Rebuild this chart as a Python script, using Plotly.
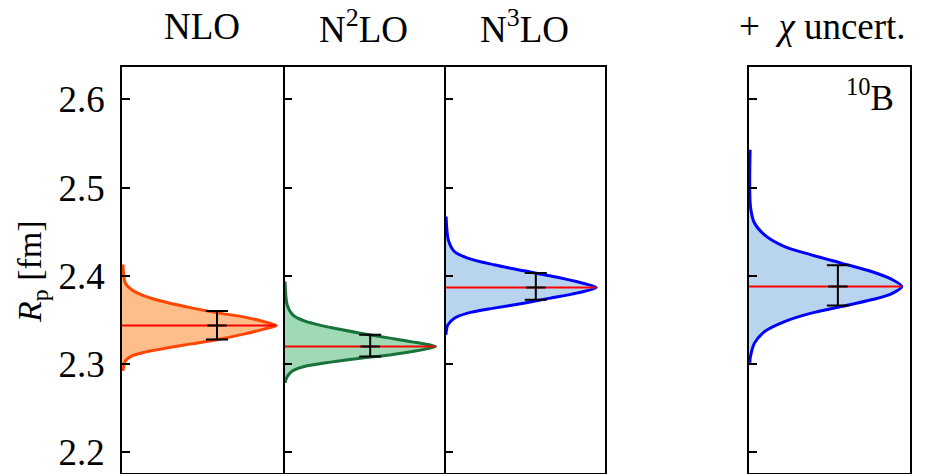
import plotly.graph_objects as go

# ---------------- data ----------------
panel_titles = ["NLO", "N<sup>2</sup>LO", "N<sup>3</sup>LO", "+\u00a0\u00a0<i>χ</i>\u00a0uncert."]

# density curves: R_p values (fm) and relative density (fraction of panel width)
nlo_R = [2.4128, 2.3921, 2.3845, 2.3770, 2.3694, 2.3637, 2.3580, 2.3532, 2.3478, 2.3437,
         2.3399, 2.3342, 2.3278, 2.3229, 2.3184, 2.3135, 2.3090, 2.3033, 2.2923]
nlo_d = [0.006, 0.020, 0.058, 0.141, 0.286, 0.430, 0.596, 0.762, 0.886, 0.958,
         0.886, 0.762, 0.596, 0.430, 0.286, 0.141, 0.058, 0.020, 0.006]

n2lo_R = [2.3935, 2.3671, 2.3558, 2.3490, 2.3414, 2.3350, 2.3294, 2.3244, 2.3198,
          2.3150, 2.3104, 2.3067, 2.3022, 2.2972, 2.2923, 2.2858, 2.2787]
n2lo_d = [0.003, 0.016, 0.051, 0.123, 0.289, 0.475, 0.661, 0.827, 0.947,
          0.827, 0.661, 0.475, 0.289, 0.123, 0.051, 0.016, 0.003]

n3lo_R = [2.4672, 2.4408, 2.4276, 2.4201, 2.4125, 2.4057, 2.4000, 2.3935, 2.3867,
          2.3804, 2.3747, 2.3690, 2.3634, 2.3577, 2.3520, 2.3444, 2.3331]
n3lo_d = [0.003, 0.017, 0.055, 0.138, 0.303, 0.489, 0.655, 0.821, 0.945,
          0.821, 0.655, 0.489, 0.303, 0.138, 0.055, 0.014, 0.002]

chi_R = [2.5429, 2.4786, 2.4598, 2.4465, 2.4332, 2.4238, 2.4144, 2.4049, 2.3963, 2.3879,
         2.3796, 2.3728, 2.3652, 2.3577, 2.3482, 2.3368, 2.3237, 2.3085, 2.3014]
chi_d = [0.007, 0.009, 0.034, 0.096, 0.221, 0.387, 0.573, 0.760, 0.884, 0.949,
         0.884, 0.760, 0.573, 0.387, 0.221, 0.096, 0.034, 0.009, 0.005]

curves_R = [nlo_R, n2lo_R, n3lo_R, chi_R]
curves_d = [nlo_d, n2lo_d, n3lo_d, chi_d]

# central values and error bars
means = [2.3437, 2.3198, 2.3867, 2.3879]
peaks = [0.958, 0.947, 0.945, 0.949]
err_plus = [0.0163, 0.0133, 0.0164, 0.0242]
err_minus = [0.0159, 0.0113, 0.0139, 0.0216]
err_x = [0.590, 0.537, 0.566, 0.552]

y_ticks = [2.2, 2.3, 2.4, 2.5, 2.6]

# ---------------- styling ----------------
line_colors = ["#FF4500", "#17733A", "#0000FF", "#0000FF"]
fill_colors = ["#FDBE8C", "#A0DAB4", "#B8D4EE", "#B8D4EE"]

W, H = 933, 474
LW = 1.6
panel_px = [(122, 283), (283 + LW, 444), (444 + LW, 605), (749, 910)]
y_top_px, y_bot_px = 66.5, 472.7
ydom = [1 - y_bot_px / H, 1 - y_top_px / H]
yrange = [2.1769, 2.6372]

SERIF = "Liberation Serif, Times New Roman, serif"

fig = go.Figure()

for i in range(4):
    xa = "x" if i == 0 else f"x{i+1}"
    ya = "y" if i == 0 else f"y{i+1}"
    fig.add_trace(go.Scatter(
        x=curves_d[i], y=curves_R[i], mode="lines",
        line=dict(color=line_colors[i], width=3, shape="spline", smoothing=0.8),
        fill="tozerox", fillcolor=fill_colors[i],
        xaxis=xa, yaxis=ya, showlegend=False, hoverinfo="skip"))
    fig.add_trace(go.Scatter(
        x=[0, peaks[i]], y=[means[i], means[i]], mode="lines",
        line=dict(color="#FF0000", width=2),
        xaxis=xa, yaxis=ya, showlegend=False, hoverinfo="skip"))
    fig.add_trace(go.Scatter(
        x=[err_x[i]], y=[means[i]], mode="markers",
        marker=dict(symbol="line-ew-open", size=14, color="black",
                    line=dict(color="black", width=2)),
        error_y=dict(type="data", symmetric=False, array=[err_plus[i]],
                     arrayminus=[err_minus[i]], color="black", thickness=2, width=11),
        xaxis=xa, yaxis=ya, showlegend=False, hoverinfo="skip"))

layout = dict(
    width=W, height=H, margin=dict(l=0, r=0, t=0, b=0),
    paper_bgcolor="white", plot_bgcolor="white",
    font=dict(family=SERIF, color="black", size=36),
)
for i in range(4):
    sx = "xaxis" if i == 0 else f"xaxis{i+1}"
    sy = "yaxis" if i == 0 else f"yaxis{i+1}"
    x0, x1 = panel_px[i]
    layout[sx] = dict(domain=[x0 / W, x1 / W], range=[0, 1.0], showgrid=False,
                      zeroline=False, showticklabels=False, ticks="",
                      showline=True, linecolor="black", linewidth=LW, mirror=True,
                      anchor="y" if i == 0 else f"y{i+1}")
    layout[sy] = dict(domain=ydom, range=yrange, showgrid=False, zeroline=False,
                      tickvals=y_ticks, ticktext=[f"{v:.1f}" for v in y_ticks],
                      ticks="inside", ticklen=8, tickwidth=LW, tickcolor="black",
                      showticklabels=(i == 0), ticklabelstandoff=8,
                      tickfont=dict(family=SERIF, size=37, color="black"),
                      showline=True, linecolor="black", linewidth=LW, mirror=True,
                      anchor="x" if i == 0 else f"x{i+1}")
fig.update_layout(**layout)

title_cx = [202, 363, 524, 822]
anns = []
for i in range(4):
    anns.append(dict(text=panel_titles[i], x=title_cx[i] / W, y=1 - 27 / H,
                     xref="paper", yref="paper", xanchor="center", yanchor="middle",
                     showarrow=False, font=dict(family=SERIF, size=37, color="black")))
anns.append(dict(text="<i>R</i><sub>p</sub> [fm]", x=32 / W, y=1 - 272 / H,
                 xref="paper", yref="paper", xanchor="center", yanchor="middle",
                 textangle=-90, showarrow=False,
                 font=dict(family=SERIF, size=34, color="black")))
anns.append(dict(text="<sup>10</sup>B", x=896 / W, y=1 - 96 / H,
                 xref="paper", yref="paper", xanchor="right", yanchor="middle",
                 showarrow=False, font=dict(family=SERIF, size=35, color="black")))
fig.update_layout(annotations=anns)

fig.write_html("out.html")
